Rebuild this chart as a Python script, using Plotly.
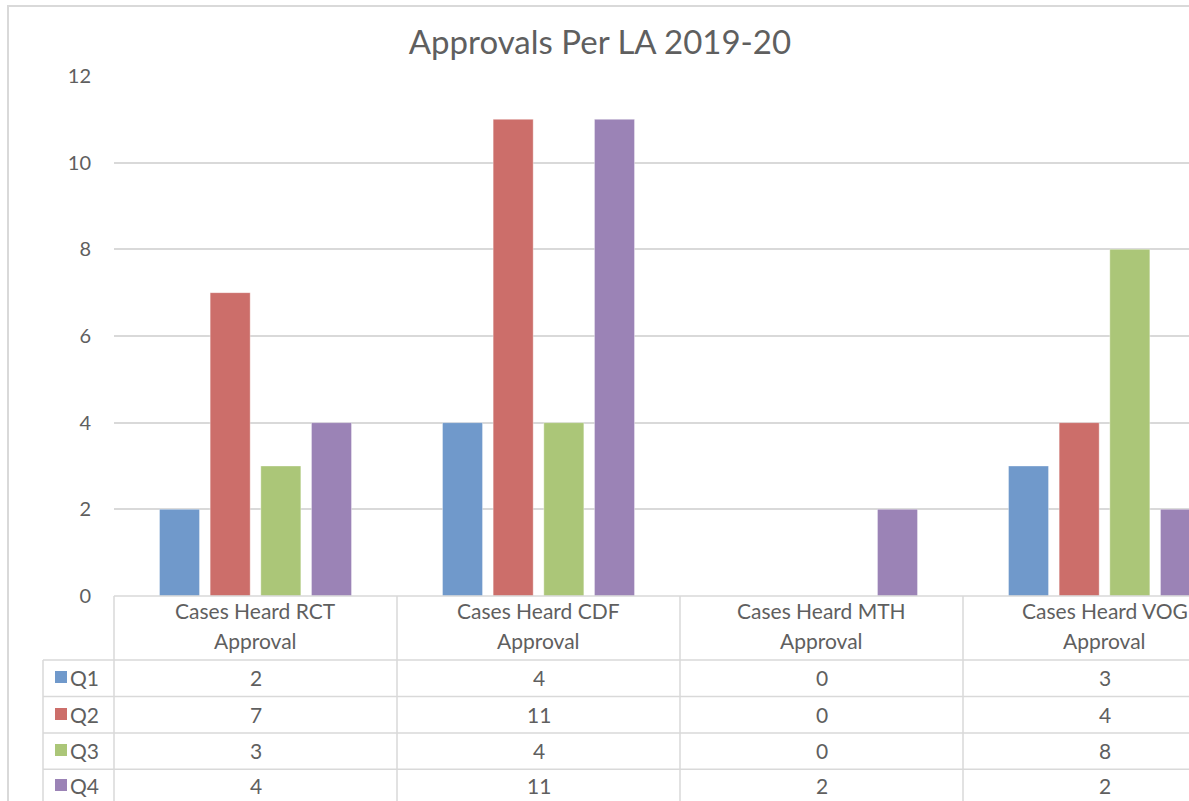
import plotly.graph_objects as go

# ---- data ----
categories = ["Cases Heard RCT<br>Approval", "Cases Heard CDF<br>Approval",
              "Cases Heard MTH<br>Approval", "Cases Heard VOG<br>Approval"]
series_names = ["Q1", "Q2", "Q3", "Q4"]
q1 = [2, 4, 0, 3]
q2 = [7, 11, 0, 4]
q3 = [3, 4, 0, 8]
q4 = [4, 11, 2, 2]
series_values = [q1, q2, q3, q4]
colors = ["#7099CB", "#CC6E6A", "#ABC678", "#9B83B6"]
y_ticks = [0, 2, 4, 6, 8, 10, 12]

# ---- layout geometry (pixels) ----
W, H = 1189, 801
L, T, B = 114, 76, 596          # plot left, top (y=12), bottom (y=0)
CAT_W = 283                      # pixel width of one category
x_max = -0.5 + (W - L) / CAT_W   # plot area runs past the right edge
TXT = "#5f5f5f"
GRID = "#d9d9d9"
FONT = "Lato"
FS = 21


def xp(px):
    return (px - L) / (W - L)


def yp(py):
    return (B - py) / (B - T)


def cat_px(x):
    return L + CAT_W * (x + 0.5)


fig = go.Figure()
for name, vals, col in zip(series_names, series_values, colors):
    fig.add_trace(go.Bar(
        x=list(range(len(categories))), y=vals, name=name,
        marker=dict(color=col, line=dict(color="rgba(255,255,255,0.35)", width=1)),
        showlegend=False,
    ))

shapes = []
annotations = []

# outer chart frame
shapes.append(dict(type="rect", xref="paper", yref="paper",
                   x0=xp(8), x1=xp(1200), y0=yp(6), y1=yp(812),
                   line=dict(color=GRID, width=2), layer="below"))

# table horizontal lines
shapes.append(dict(type="line", xref="paper", yref="paper",
                   x0=xp(L), x1=xp(W + 5), y0=yp(B), y1=yp(B),
                   line=dict(color=GRID, width=1.5)))
row_lines = [660, 696.5, 733, 769.3]
for ry in row_lines:
    shapes.append(dict(type="line", xref="paper", yref="paper",
                       x0=xp(43), x1=xp(W + 5), y0=yp(ry), y1=yp(ry),
                       line=dict(color=GRID, width=1.5)))
# table vertical lines
shapes.append(dict(type="line", xref="paper", yref="paper",
                   x0=xp(43), x1=xp(43), y0=yp(660), y1=yp(H + 5),
                   line=dict(color=GRID, width=1.5)))
for k in range(len(categories)):
    vx = cat_px(k - 0.5)
    shapes.append(dict(type="line", xref="paper", yref="paper",
                       x0=xp(vx), x1=xp(vx), y0=yp(B), y1=yp(H + 5),
                       line=dict(color=GRID, width=1.5)))

# category header labels (two lines each)
header_line_y = [610, 640]
for k, c in enumerate(categories):
    for line_txt, ly in zip(c.split("<br>"), header_line_y):
        annotations.append(dict(xref="paper", yref="paper", x=xp(cat_px(k)), y=yp(ly),
                                text=line_txt, showarrow=False, xanchor="center",
                                yanchor="middle",
                                font=dict(family=FONT, size=FS, color=TXT)))

# rows: legend key + values
row_centers = [677, 714, 750, 785]
for r, (name, vals, col) in enumerate(zip(series_names, series_values, colors)):
    cy = row_centers[r]
    shapes.append(dict(type="rect", xref="paper", yref="paper",
                       x0=xp(55), x1=xp(67), y0=yp(cy - 6), y1=yp(cy + 6),
                       fillcolor=col, line=dict(width=0)))
    annotations.append(dict(xref="paper", yref="paper", x=xp(68), y=yp(cy),
                            text=name, showarrow=False, xanchor="left", yanchor="middle",
                            font=dict(family=FONT, size=FS, color=TXT)))
    for k, v in enumerate(vals):
        annotations.append(dict(xref="paper", yref="paper", x=xp(cat_px(k)), y=yp(cy),
                                text=str(v), showarrow=False, xanchor="center",
                                yanchor="middle",
                                font=dict(family=FONT, size=FS, color=TXT)))

fig.update_layout(
    width=W, height=H,
    margin=dict(l=L, r=0, t=T, b=H - B, pad=0),
    paper_bgcolor="white", plot_bgcolor="white",
    barmode="group", bargap=0.284, bargroupgap=0.21,
    title=dict(text="Approvals Per LA 2019-20", x=(600 / W), xanchor="center",
               y=1 - 42 / H, yanchor="middle", yref="container",
               font=dict(family=FONT, size=33, color=TXT)),
    xaxis=dict(range=[-0.5, x_max], showticklabels=False, showgrid=False,
               zeroline=False, showline=False, ticks=""),
    yaxis=dict(range=[0, 12], tickvals=y_ticks, showgrid=True, gridcolor=GRID,
               gridwidth=1.5, zeroline=False, showline=False, ticks="",
               ticklabelstandoff=22,
               tickfont=dict(family=FONT, size=20, color=TXT)),
    shapes=shapes, annotations=annotations,
)

fig.write_html(
    "out.html",
    config={"displayModeBar": False},
    post_script="document.body.style.margin='0';document.body.style.overflow='hidden';",
)
